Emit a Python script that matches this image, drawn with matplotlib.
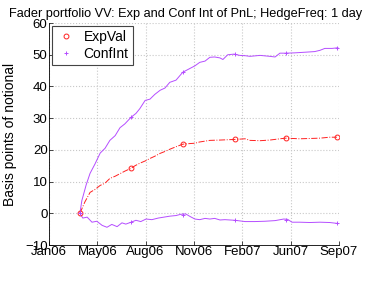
import matplotlib
matplotlib.use("Agg")
import matplotlib.pyplot as plt

plt.rcParams["font.family"] = ["Liberation Sans", "DejaVu Sans"]

# x in days since the left axis limit
tick_days = [0, 100, 200, 300, 400, 500, 600]
tick_labels = ["Jan06", "May06", "Aug06", "Nov06", "Feb07", "Jun07", "Sep07"]

exp_days = [64, 74, 85, 95, 106, 116, 126, 137, 147, 157, 170, 178, 188, 199, 209, 219, 230,
            240, 250, 263, 277, 292, 302, 312, 333, 354, 385, 406, 416, 437, 457, 478, 490,
            519, 540, 561, 581, 596]
exp_vals = [0, 3.5, 6.6, 7.5, 8.8, 9.5, 11, 11.7, 12.5, 13.3, 14.2, 15, 15.8, 16.5, 17.3, 18,
            18.9, 19.5, 20.2, 21, 21.8, 22, 22.1, 22.5, 23, 23.1, 23.3, 23.5, 23, 22.9, 23.1,
            23.5, 23.7, 23.5, 23.6, 23.7, 24, 24]

up_days = [64, 68, 77, 85, 95, 106, 116, 126, 137, 147, 157, 170, 180, 188, 199, 209, 219, 230,
           240, 250, 263, 277, 292, 302, 312, 323, 333, 343, 354, 360, 370, 383, 395, 406, 416,
           437, 457, 468, 478, 490, 509, 530, 550, 561, 571, 586, 598]
up_vals = [0, 4, 9, 12.6, 15.5, 19, 20.5, 23, 24.5, 27, 28.2, 30.3, 31.5, 33, 35.6, 36, 37.5,
           38.8, 39.5, 41.3, 42, 44.5, 45.7, 46.5, 47.6, 48, 49.2, 49.3, 49, 48.5, 50, 50.2,
           49.8, 49.7, 49.5, 49.8, 49.5, 49.3, 50.5, 50.5, 50.6, 50.8, 51, 51.4, 52, 52, 52.2]

low_days = [64, 70, 79, 89, 99, 110, 120, 130, 141, 151, 159, 170, 180, 190, 201, 213, 226,
            238, 250, 263, 273, 283, 292, 302, 312, 323, 333, 343, 354, 364, 385, 406, 426,
            447, 468, 486, 494, 503, 519, 540, 561, 581, 598]
low_vals = [0, -1.5, -1.2, -2.8, -2.5, -3.8, -4.4, -3.5, -4.2, -3.0, -3.4, -2.8, -2.2, -2.6,
            -1.8, -2.0, -1.5, -1.2, -0.9, -0.7, -0.3, -0.2, -1, -1.8, -2, -1.6, -1.8, -1.6,
            -2.1, -2.0, -2.2, -2.6, -2.6, -2.5, -2.3, -1.8, -1.9, -2.8, -2.8, -2.9, -2.8,
            -2.9, -3.2]

marker_days = [64, 170, 277, 385, 490, 596]
exp_marks = [0, 14.2, 21.8, 23.3, 23.7, 24]
up_marks = [0, 30.3, 44.5, 50.2, 50.5, 52.2]
low_marks = [0, -2.8, -0.5, -2.2, -2.2, -3.2]

red = "#ff2020"
purple = "#b54dff"

fig = plt.figure(figsize=(3.74, 2.81), dpi=100)
ax = fig.add_axes([0.131, 0.128, 0.775, 0.79])

ax.plot(exp_days, exp_vals, color=red, linestyle="-.", linewidth=0.7)
ax.plot(up_days, up_vals, color=purple, linewidth=0.7)
ax.plot(low_days, low_vals, color=purple, linewidth=0.7)
ax.plot(marker_days, exp_marks, "o", color=red, markerfacecolor="none",
        markersize=3.5, markeredgewidth=0.7, label="ExpVal")
ax.plot(marker_days, up_marks, "+", color=purple, markersize=3.5,
        markeredgewidth=0.7, label="ConfInt")
ax.plot(marker_days, low_marks, "+", color=purple, markersize=3.5, markeredgewidth=0.7)

ax.set_xlim(0, 600)
ax.set_ylim(-10, 60)
ax.set_xticks(tick_days)
ax.set_xticklabels(tick_labels)
ax.set_yticks(range(-10, 61, 10))
ax.tick_params(direction="in", labelsize=9.5, length=3, width=0.5, pad=1)
ax.grid(True, color="#c8c8c8", linestyle=":", linewidth=0.8)
for side in ["top", "right"]:
    ax.spines[side].set_visible(False)
for side in ["left", "bottom"]:
    ax.spines[side].set_linewidth(0.6)

ax.set_ylabel("Basis points of notional", fontsize=10, labelpad=6)
ax.set_title("Fader portfolio VV: Exp and Conf Int of PnL; HedgeFreq: 1 day",
             fontsize=9.2, pad=4, x=0.47)

leg = ax.legend(loc="upper left", fontsize=10, fancybox=False, framealpha=1,
                borderaxespad=0.2, handlelength=1.5, handletextpad=0.5,
                borderpad=0.3, labelspacing=0.2)
leg.get_frame().set_edgecolor("#444444")
leg.get_frame().set_linewidth(0.8)

fig.savefig("out.png", dpi=100)
